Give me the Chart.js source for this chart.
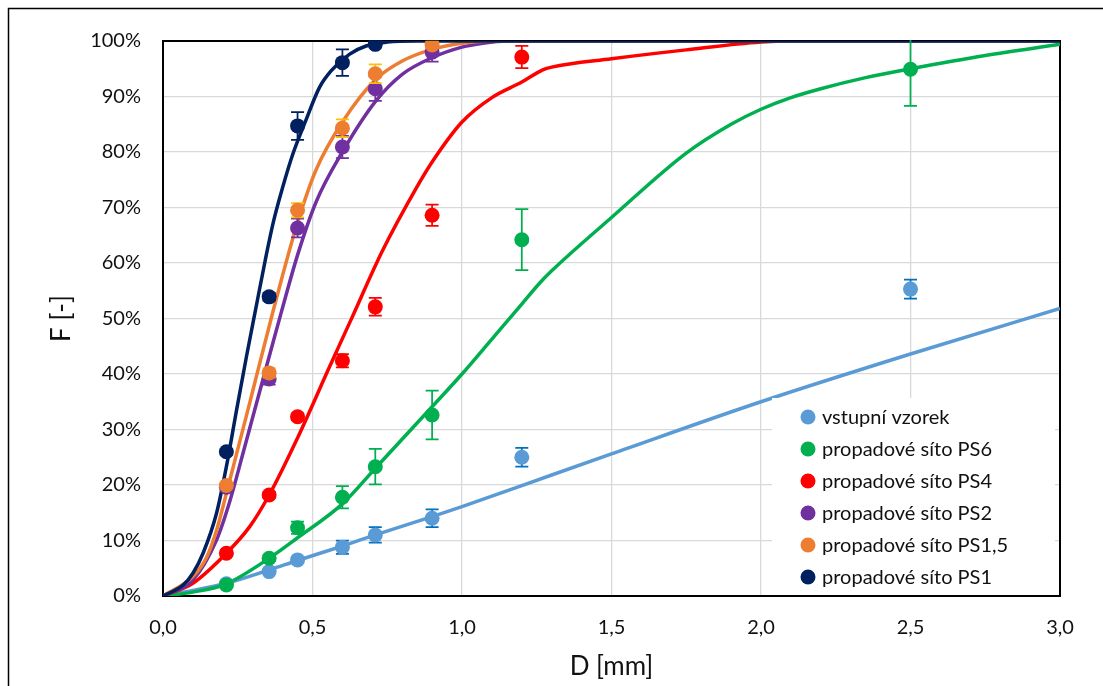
<!DOCTYPE html>
<html>
<head>
<meta charset="utf-8">
<script src="https://cdn.jsdelivr.net/npm/chart.js@4.4.1/dist/chart.umd.min.js"></script>
<style>
  body { margin: 0; background: #fff; }
  canvas { display: block; }
</style>
</head>
<body>
<canvas id="chart" width="1103" height="686" style="width:1103px;height:686px"></canvas>
<script>
// measured sieve sizes [mm]
const sieveD = [0.212, 0.355, 0.45, 0.6, 0.71, 0.9, 1.2, 2.5];

const seriesNames = ['vstupní vzorek', 'propadové síto PS6', 'propadové síto PS4',
  'propadové síto PS2', 'propadové síto PS1,5', 'propadové síto PS1'];
const seriesColors = ['#5B9BD5', '#00B050', '#FF0000', '#7030A0', '#ED7D31', '#002060'];
const errColors = ['#0070C0', '#00B050', '#FF0000', '#7030A0', '#FFC000', '#002060'];

// measured F [%] and error bars
const fVstup = [2.2, 4.4, 6.5, 8.8, 11.0, 14.0, 25.0, 55.3];
const eVstup = [0.4, 0.4, 0.5, 1.2, 1.4, 1.6, 1.7, 1.7];
const fPS6 = [2.0, 6.8, 12.3, 17.8, 23.3, 32.6, 64.2, 94.9];
const ePS6 = [0.4, 0.5, 1.1, 2.0, 3.2, 4.4, 5.5, 6.6];
const fPS4 = [7.7, 18.2, 32.3, 42.4, 52.1, 68.6, 97.1];
const ePS4 = [0.5, 0.5, 0.6, 1.2, 1.6, 1.9, 2.0];
const fPS2 = [19.6, 39.1, 66.3, 80.9, 91.4, 98.0];
const ePS2 = [0.6, 1.0, 1.7, 2.0, 2.2, 1.7];
const fPS15 = [19.9, 40.2, 69.5, 84.3, 94.1, 99.3];
const ePS15 = [0.5, 0.8, 1.3, 1.6, 1.7, 0.6];
const fPS1 = [26.0, 53.9, 84.7, 96.1, 99.4];
const ePS1 = [0.5, 0.7, 2.5, 2.4, 0.6];

// fitted curves
const fitDVstup = [0, 0.1, 0.212, 0.355, 0.45, 0.6, 0.71, 0.9, 1.0, 1.2, 1.5, 2.0, 2.5, 3.0];
const fitFVstup = [0, 1.0, 2.3, 4.7, 6.4, 9.0, 11.0, 14.3, 16.1, 19.9, 25.6, 35.0, 43.6, 51.8];
const fitDPS6 = [0, 0.1, 0.212, 0.355, 0.45, 0.6, 0.71, 0.9, 1.0, 1.1, 1.2, 1.26, 1.3, 1.5, 1.75, 1.9, 2.0, 2.1, 2.2, 2.35, 2.5, 2.75, 3.0];
const fitFPS6 = [0, 0.7, 2.2, 6.8, 10.5, 16.6, 23.0, 34.1, 40.0, 46.3, 52.6, 56.4, 58.6, 68.2, 79.8, 85.0, 87.7, 89.8, 91.4, 93.4, 95.0, 97.4, 99.4];
const fitDPS4 = [0, 0.1, 0.212, 0.29, 0.355, 0.457, 0.557, 0.629, 0.734, 0.846, 0.9, 1.0, 1.1, 1.2, 1.27, 1.3, 1.5, 1.75, 2.0, 2.1, 3.0];
const fitFPS4 = [0, 2.3, 7.7, 12.5, 18.2, 29.3, 41.3, 49.8, 62.2, 73.4, 78.2, 85.4, 89.8, 92.6, 94.8, 95.3, 96.8, 98.4, 99.8, 100, 100];
const fitDPS2 = [0, 0.1, 0.179, 0.223, 0.268, 0.31, 0.357, 0.396, 0.451, 0.512, 0.6, 0.712, 0.8, 0.9, 1.0, 1.07, 1.15, 3.0];
const fitFPS2 = [0, 2.9, 10.1, 17.0, 25.8, 34.2, 43.5, 51.2, 61.6, 71.0, 80.0, 89.2, 94.0, 97.0, 98.9, 99.6, 100, 100];
const fitDPS15 = [0, 0.1, 0.146, 0.179, 0.212, 0.246, 0.29, 0.32, 0.368, 0.4, 0.45, 0.512, 0.6, 0.712, 0.8, 0.9, 1.0, 1.1, 3.0];
const fitFPS15 = [0, 3.5, 7.0, 11.8, 18.5, 25.6, 34.8, 41.2, 51.3, 57.8, 67.3, 76.8, 85.4, 93.1, 96.4, 98.5, 99.6, 100, 100];
const fitDPS1 = [0, 0.068, 0.1, 0.134, 0.179, 0.212, 0.246, 0.279, 0.31, 0.346, 0.37, 0.4, 0.434, 0.477, 0.523, 0.562, 0.623, 0.679, 0.75, 0.85, 3.0];
const fitFPS1 = [0, 2.0, 4.1, 7.7, 14.9, 23.3, 33.5, 43.1, 51.7, 61.6, 67.6, 73.6, 79.6, 85.6, 91.6, 94.6, 97.6, 99.1, 99.8, 100, 100];

const xTicks = ['0,0', '0,5', '1,0', '1,5', '2,0', '2,5', '3,0'];

const FONT = 'Lato, "Open Sans", sans-serif';

const measured = [fVstup, fPS6, fPS4, fPS2, fPS15, fPS1];
const errors = [eVstup, ePS6, ePS4, ePS2, ePS15, ePS1];
const fitD = [fitDVstup, fitDPS6, fitDPS4, fitDPS2, fitDPS15, fitDPS1];
const fitF = [fitFVstup, fitFPS6, fitFPS4, fitFPS2, fitFPS15, fitFPS1];

function pairs(xs, ys) {
  return ys.map((y, i) => ({ x: xs[i], y: y }));
}

let datasets = [];
// curves first (drawn under the points)
for (let i = 0; i < 6; i++) {
  datasets.push({
    label: seriesNames[i] + ' fit',
    data: pairs(fitD[i], fitF[i]),
    showLine: true,
    borderColor: seriesColors[i],
    borderWidth: 3.5,
    pointRadius: 0,
    cubicInterpolationMode: 'monotone',
    order: 20 - i
  });
}
for (let i = 0; i < 6; i++) {
  datasets.push({
    label: seriesNames[i],
    data: pairs(sieveD, measured[i]),
    showLine: false,
    backgroundColor: seriesColors[i],
    borderWidth: 0,
    pointRadius: 7.5,
    errors: errors[i],
    errColor: errColors[i],
    order: 6 - i
  });
}

// outer frame of the picture + plot box
const framePlugin = {
  id: 'frame',
  beforeDraw(chart) {
    const ctx = chart.ctx;
    ctx.save();
    ctx.fillStyle = '#fff';
    ctx.fillRect(0, 0, chart.width, chart.height);
    ctx.strokeStyle = '#000';
    ctx.lineWidth = 1.5;
    ctx.strokeRect(8.5, 8.5, chart.width + 20, chart.height + 20);
    ctx.restore();
  },
  beforeDatasetsDraw(chart) {
    const a = chart.chartArea;
    const ctx = chart.ctx;
    ctx.save();
    ctx.strokeStyle = '#000';
    ctx.lineWidth = 2;
    ctx.strokeRect(a.left, a.top, a.right - a.left, a.bottom - a.top);
    ctx.restore();
  }
};

// error bars, drawn just before each point series
const errorBarPlugin = {
  id: 'errBars',
  beforeDatasetDraw(chart, args) {
    const ds = chart.data.datasets[args.index];
    if (!ds.errors) return;
    const xs = chart.scales.x, ys = chart.scales.y, a = chart.chartArea;
    const ctx = chart.ctx;
    ctx.save();
    ctx.beginPath();
    ctx.rect(a.left, a.top - 1, a.right - a.left, a.bottom - a.top + 1);
    ctx.clip();
    ctx.strokeStyle = ds.errColor;
    ctx.lineWidth = 1.75;
    ds.data.forEach((p, i) => {
      const e = ds.errors[i];
      const px = xs.getPixelForValue(p.x);
      const y1 = ys.getPixelForValue(p.y + e);
      const y2 = ys.getPixelForValue(p.y - e);
      ctx.beginPath();
      ctx.moveTo(px, y1); ctx.lineTo(px, y2);
      ctx.moveTo(px - 6.5, y1); ctx.lineTo(px + 6.5, y1);
      ctx.moveTo(px - 6.5, y2); ctx.lineTo(px + 6.5, y2);
      ctx.stroke();
    });
    ctx.restore();
  }
};

// legend box inside the plot, bottom right
const boxLegendPlugin = {
  id: 'boxLegend',
  afterDatasetsDraw(chart) {
    const a = chart.chartArea;
    const ctx = chart.ctx;
    ctx.save();
    ctx.fillStyle = '#fff';
    ctx.fillRect(772, 398, a.right - 5 - 772, a.bottom - 1 - 398);
    ctx.font = '20px ' + FONT;
    ctx.textBaseline = 'middle';
    ctx.textAlign = 'left';
    seriesNames.forEach((name, i) => {
      const y = 417 + i * 32;
      ctx.fillStyle = seriesColors[i];
      ctx.beginPath();
      ctx.arc(808, y, 7.5, 0, Math.PI * 2);
      ctx.fill();
      ctx.fillStyle = '#111';
      ctx.fillText(name, 822, y + 1);
    });
    ctx.restore();
  }
};

const chart = new Chart(document.getElementById('chart'), {
  type: 'scatter',
  data: { datasets: datasets },
  options: {
    responsive: false,
    animation: false,
    layout: { padding: { left: 10, right: 43, top: 41, bottom: 0 } },
    plugins: { legend: { display: false }, tooltip: { enabled: false } },
    scales: {
      x: {
        type: 'linear',
        min: 0,
        max: 3,
        afterFit: s => { s.height = 90; },
        afterBuildTicks: s => { s.ticks = xTicks.map((t, i) => ({ value: i * 0.5 })); },
        ticks: {
          callback: (v, i) => xTicks[i],
          font: { family: FONT, size: 20 },
          color: '#111',
          padding: 20,
          maxRotation: 0
        },
        grid: { color: '#D9D9D9', lineWidth: 1.3, drawTicks: false },
        border: { display: false },
        title: {
          display: true,
          text: 'D [mm]',
          font: { family: FONT, size: 26 },
          color: '#111',
          padding: { top: 0, bottom: 4 }
        }
      },
      y: {
        min: 0,
        max: 100,
        afterFit: s => { s.width = 153; },
        ticks: {
          stepSize: 10,
          callback: v => v + '%',
          font: { family: FONT, size: 20 },
          color: '#111',
          padding: 22
        },
        grid: { color: '#D9D9D9', lineWidth: 1.3, drawTicks: false },
        border: { display: false },
        title: {
          display: true,
          text: 'F [-]',
          font: { family: FONT, size: 26 },
          color: '#111',
          padding: { top: 36, bottom: 0 }
        }
      }
    }
  },
  plugins: [framePlugin, errorBarPlugin, boxLegendPlugin]
});
</script>
</body>
</html>
